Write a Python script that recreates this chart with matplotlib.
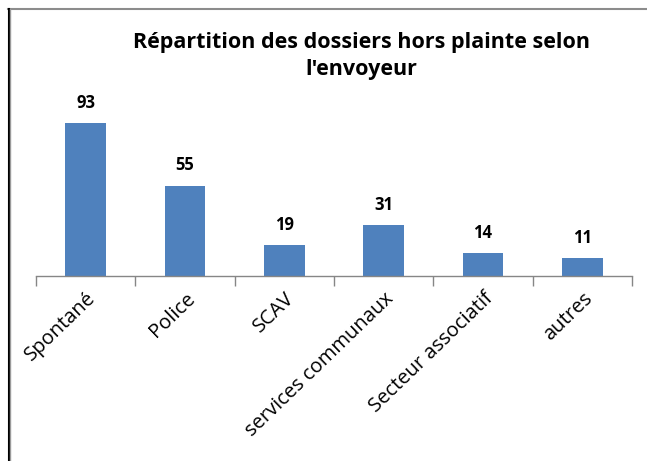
import matplotlib.pyplot as plt
from matplotlib.lines import Line2D
import numpy as np

categories = ['Spontané', 'Police', 'SCAV', 'services communaux',
              'Secteur associatif', 'autres']
values = [93, 55, 19, 31, 14, 11]
title = "Répartition des dossiers hors plainte selon\nl'envoyeur"

plt.rcParams['font.family'] = ['Open Sans', 'DejaVu Sans']

fig = plt.figure(figsize=(6.47, 4.61), dpi=100)
W, H = 647, 461
ax = fig.add_axes([36 / W, (H - 276) / H, (632 - 36) / W, 164.5 / H])

x = np.arange(len(categories))
bars = ax.bar(x, values, width=0.41, color='#4F81BD', zorder=2)

for xi, v in zip(x, values):
    ax.annotate(str(v), (xi, v), textcoords='offset points', xytext=(0, 8),
                ha='center', va='bottom', fontsize=12, fontweight='bold')

ax.set_xlim(-0.5, len(categories) - 0.5)
ax.set_ylim(0, 100)

for s in ['top', 'right', 'left']:
    ax.spines[s].set_visible(False)
ax.spines['bottom'].set_color('#868686')
ax.spines['bottom'].set_linewidth(1)
ax.set_yticks([])

ax.set_xticks(x)
ax.tick_params(axis='x', which='major', length=0, pad=9)
ax.set_xticklabels(categories, rotation=44, ha='right',
                   rotation_mode='anchor', fontsize=14.5)
ax.set_xticks(np.arange(-0.5, len(categories)), minor=True)
ax.tick_params(axis='x', which='minor', length=7, color='#868686', width=1)

fig.text(361 / W, 1 - 56 / H, title, ha='center', va='center',
         fontsize=15.5, fontweight='bold', linespacing=1.4)

# chart frame (top and left edges visible in the crop)
fig.add_artist(Line2D([8 / W, 1], [1 - 9 / H, 1 - 9 / H], color='#8c8c8c',
                      lw=1.5, transform=fig.transFigure))
fig.add_artist(Line2D([8.5 / W, 8.5 / W], [0, 1 - 9 / H], color='black',
                      lw=1.5, transform=fig.transFigure))
fig.add_artist(Line2D([10 / W, 10 / W], [0, 1 - 9 / H], color='#9a9a9a',
                      lw=1, transform=fig.transFigure))

fig.savefig('out.png', dpi=100)
